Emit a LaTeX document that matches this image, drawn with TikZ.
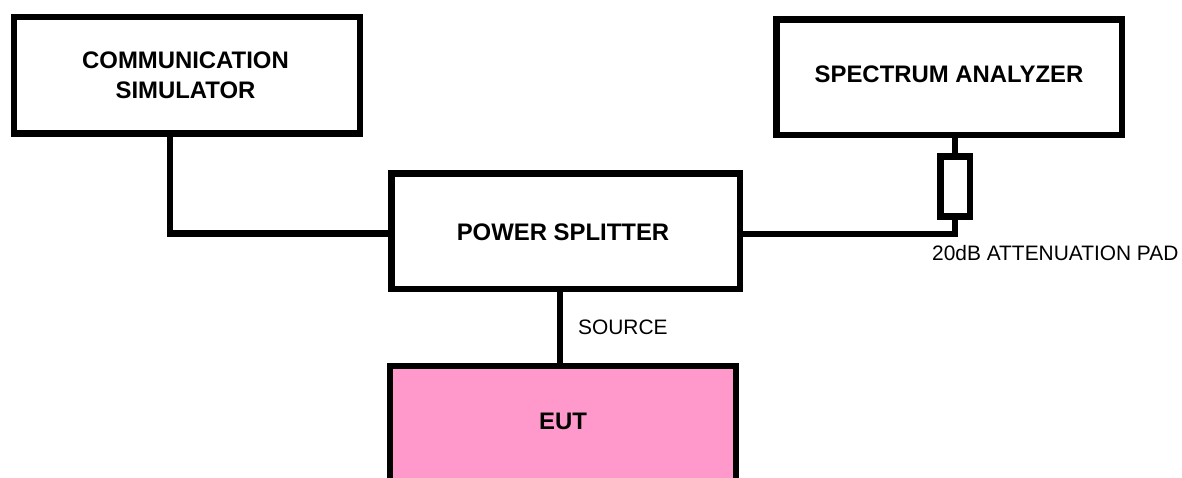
\documentclass[tikz,border=0pt]{standalone}
\usepackage{fontspec}
\setmainfont{Liberation Sans}
\definecolor{eutpink}{RGB}{255,153,204}
\tikzset{
  box/.style={draw=black, line width=6.5pt, rectangle, inner sep=0pt, fill=white},
  boxtext/.style={font=\fontsize{23.9}{30}\selectfont\bfseries, align=center, inner sep=0pt},
  lbl/.style={font=\fontsize{20.9}{24}\selectfont, inner sep=0pt, anchor=west},
  wire/.style={draw=black, line width=6.5pt}
}
\begin{document}
\begin{tikzpicture}[x=1pt,y=-1pt]
\useasboundingbox (0,0) rectangle (1182,478);
\clip (0,0) rectangle (1182,478);
\fill[white] (0,0) rectangle (1182,478);
% boxes
\node[box, minimum width=346pt, minimum height=116.5pt] (cs) at (187,75.25) {};
\node[boxtext] (cst) at (185.5,75) {COMMUNICATION\\SIMULATOR};
\node[box, minimum width=345.5pt, minimum height=115.5pt] (sa) at (949.25,77.25) {};
\node[boxtext] (sat) at (949,74) {SPECTRUM ANALYZER};
\node[box, minimum width=348.5pt, minimum height=115.5pt] (ps) at (565.75,231.25) {};
\node[boxtext] (pst) at (563,232) {POWER SPLITTER};
\node[box, fill=eutpink, minimum width=346pt, minimum height=134pt] (eut) at (563,433) {};
\node[boxtext] (eutt) at (563,421) {EUT};
\node[box, minimum width=29.5pt, minimum height=60pt] (pad) at (955,186.5) {};
% connectors
\draw[wire] (cs.south -| 170,0) |- (ps.west |- 0,233.5);
\draw[wire] (ps.east |- 0,234) -| (pad.south);
\draw[wire] (pad.north) -- (pad.north |- sa.south);
\draw[wire] (ps.south -| 560,0) -- (eut.north -| 560,0);
% labels
\node[lbl] (src) at (578,327) {SOURCE};
\node[lbl] (att) at (932,253) {20dB ATTENUATION PAD};
\end{tikzpicture}
\end{document}
